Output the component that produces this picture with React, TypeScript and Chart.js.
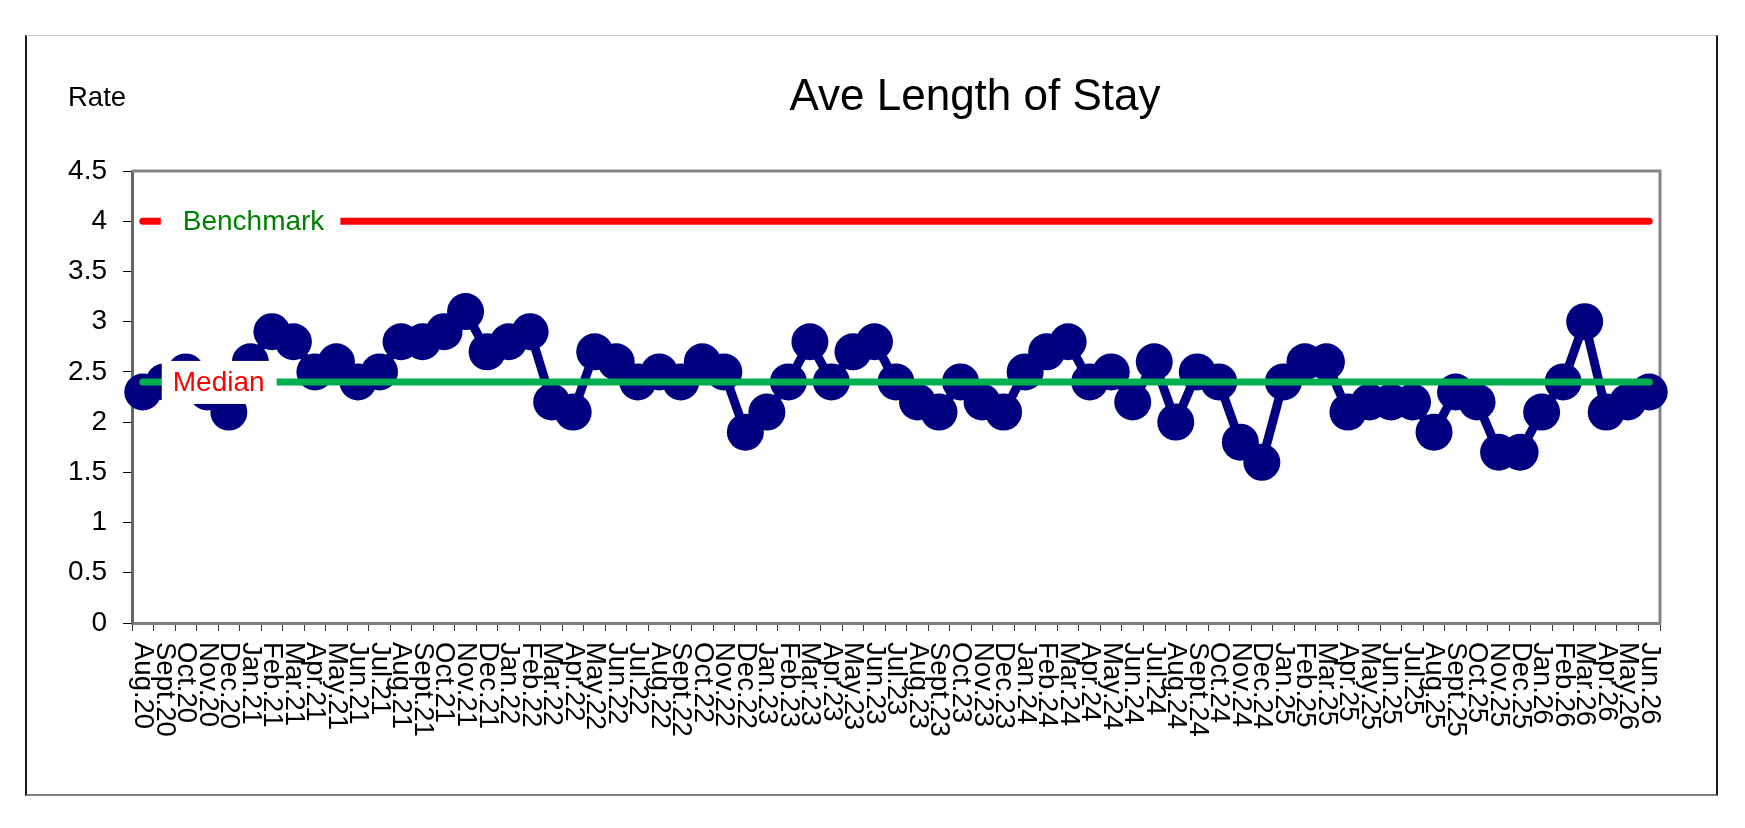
import { useEffect, useRef } from "react"
import { Chart, registerables } from "chart.js"

Chart.register(...registerables)

const FONT = "'Liberation Sans', Arial, sans-serif"

const months = [
  "Aug.20", "Sept.20", "Oct.20", "Nov.20", "Dec.20",
  "Jan.21", "Feb.21", "Mar.21", "Apr.21", "May.21", "Jun.21", "Jul.21", "Aug.21", "Sept.21", "Oct.21", "Nov.21", "Dec.21",
  "Jan.22", "Feb.22", "Mar.22", "Apr.22", "May.22", "Jun.22", "Jul.22", "Aug.22", "Sept.22", "Oct.22", "Nov.22", "Dec.22",
  "Jan.23", "Feb.23", "Mar.23", "Apr.23", "May.23", "Jun.23", "Jul.23", "Aug.23", "Sept.23", "Oct.23", "Nov.23", "Dec.23",
  "Jan.24", "Feb.24", "Mar.24", "Apr.24", "May.24", "Jun.24", "Jul.24", "Aug.24", "Sept.24", "Oct.24", "Nov.24", "Dec.24",
  "Jan.25", "Feb.25", "Mar.25", "Apr.25", "May.25", "Jun.25", "Jul.25", "Aug.25", "Sept.25", "Oct.25", "Nov.25", "Dec.25",
  "Jan.26", "Feb.26", "Mar.26", "Apr.26", "May.26", "Jun.26",
]

const stay = [
  2.3, 2.4, 2.5, 2.3, 2.1,
  2.6, 2.9, 2.8, 2.5, 2.6, 2.4, 2.5, 2.8, 2.8, 2.9, 3.1, 2.7,
  2.8, 2.9, 2.2, 2.1, 2.7, 2.6, 2.4, 2.5, 2.4, 2.6, 2.5, 1.9,
  2.1, 2.4, 2.8, 2.4, 2.7, 2.8, 2.4, 2.2, 2.1, 2.4, 2.2, 2.1,
  2.5, 2.7, 2.8, 2.4, 2.5, 2.2, 2.6, 2.0, 2.5, 2.4, 1.8, 1.6,
  2.4, 2.6, 2.6, 2.1, 2.2, 2.2, 2.2, 1.9, 2.3, 2.2, 1.7, 1.7,
  2.1, 2.4, 3.0, 2.1, 2.2, 2.3,
]

const benchmark = 4
const median = 2.4
const yTicks = [0, 0.5, 1, 1.5, 2, 2.5, 3, 3.5, 4, 4.5]

// white-backed tag sitting on a reference line
function tag(ctx: CanvasRenderingContext2D, text: string, color: string, left: number, y: number, padL: number, padR: number) {
  ctx.font = `28px ${FONT}`
  const w = ctx.measureText(text).width
  ctx.fillStyle = "#ffffff"
  ctx.fillRect(left, y - 21, padL + w + padR, 43)
  ctx.fillStyle = color
  ctx.textAlign = "left"
  ctx.textBaseline = "middle"
  ctx.fillText(text, left + padL, y + 1)
}

const decor = {
  id: "decor",
  beforeDatasetsDraw(chart: any) {
    const { ctx, chartArea: a } = chart
    ctx.save()
    ctx.strokeStyle = "#858585"
    ctx.lineWidth = 3
    ctx.beginPath()
    ctx.moveTo(a.left, a.top)
    ctx.lineTo(a.right, a.top)
    ctx.lineTo(a.right, a.bottom)
    ctx.stroke()
    ctx.restore()
  },
  afterDatasetsDraw(chart: any) {
    const { ctx } = chart
    const xs = chart.scales.x
    const ys = chart.scales.y
    const x0 = xs.getPixelForValue(0)
    ctx.save()
    tag(ctx, "Benchmark", "#008000", x0 + 18, ys.getPixelForValue(benchmark), 22, 16)
    tag(ctx, "Median", "#ff0000", x0 + 19, ys.getPixelForValue(median), 11, 12)
    ctx.restore()
  },
  afterDraw(chart: any) {
    const { ctx, chartArea: a } = chart
    const xs = chart.scales.x
    ctx.save()
    // category labels, rotated to read downwards
    ctx.font = `27.5px ${FONT}`
    ctx.fillStyle = "#000000"
    ctx.textAlign = "left"
    ctx.textBaseline = "middle"
    months.forEach((m, i) => {
      ctx.save()
      ctx.translate(xs.getPixelForValue(i), a.bottom + 19)
      ctx.rotate(Math.PI / 2)
      ctx.fillText(m, 0, 0)
      ctx.restore()
    })
    ctx.textBaseline = "alphabetic"
    ctx.font = `27.5px ${FONT}`
    ctx.fillText("Rate", 68, 106)
    ctx.font = `44px ${FONT}`
    ctx.textAlign = "center"
    ctx.fillText("Ave Length of Stay", 975, 110)
    ctx.restore()
  },
}

export default function App() {
  const chartRef = useRef<HTMLCanvasElement>(null)
  const chartInstance = useRef<Chart | null>(null)

  useEffect(() => {
    if (!chartRef.current) return
    if (chartInstance.current) chartInstance.current.destroy()
    const ctx = chartRef.current.getContext("2d")
    if (!ctx) return

    chartInstance.current = new Chart(ctx, {
      type: "line",
      data: {
        labels: months,
        datasets: [
          {
            label: "Median",
            data: months.map(() => median),
            borderColor: "#00b050",
            borderWidth: 7,
            borderCapStyle: "round",
            pointRadius: 0,
            order: 0,
          },
          {
            label: "Benchmark",
            data: months.map(() => benchmark),
            borderColor: "#ff0000",
            borderWidth: 7,
            borderCapStyle: "round",
            pointRadius: 0,
            order: 1,
          },
          {
            label: "Ave Length of Stay",
            data: stay,
            borderColor: "#000080",
            backgroundColor: "#000080",
            borderWidth: 9,
            pointRadius: 18.5,
            pointBorderWidth: 0,
            pointBackgroundColor: "#000080",
            clip: false,
            order: 2,
          },
        ],
      },
      options: {
        responsive: false,
        animation: false,
        layout: { padding: { left: 0, top: 171, right: 85, bottom: 0 } },
        plugins: {
          legend: { display: false },
          title: { display: false },
          tooltip: { enabled: false },
        },
        scales: {
          x: {
            offset: true,
            grid: { offset: true, drawOnChartArea: false, tickLength: 8, tickColor: "#333333", lineWidth: 1 },
            border: { color: "#808080", width: 3 },
            ticks: { display: false, autoSkip: false },
            afterFit: (s: any) => {
              s.height = 205
            },
          },
          y: {
            min: 0,
            max: 4.5,
            afterBuildTicks: (s: any) => {
              s.ticks = yTicks.map((v) => ({ value: v }))
            },
            grid: { drawOnChartArea: false, tickLength: 9, tickColor: "#000000" },
            border: { color: "#666666", width: 3 },
            ticks: {
              color: "#000000",
              padding: 16,
              font: { size: 28, family: FONT },
              callback: (v: any) => String(v),
            },
            afterFit: (s: any) => {
              s.width = 132
            },
          },
        },
      },
      plugins: [decor],
    })

    return () => {
      if (chartInstance.current) {
        chartInstance.current.destroy()
        chartInstance.current = null
      }
    }
  }, [])

  return (
    <div style={{ position: "fixed", left: 0, top: 0, width: 1745, height: 828, background: "#ffffff" }}>
      <div
        style={{
          position: "absolute",
          left: 25,
          top: 35,
          width: 1693,
          height: 761,
          boxSizing: "border-box",
          borderTop: "1px solid #c8c8c8",
          borderLeft: "2px solid #1a1a1a",
          borderRight: "2px solid #1a1a1a",
          borderBottom: "2px solid #808080",
        }}
      />
      <canvas ref={chartRef} width={1745} height={828} style={{ position: "absolute", left: 0, top: 0 }} />
    </div>
  )
}
